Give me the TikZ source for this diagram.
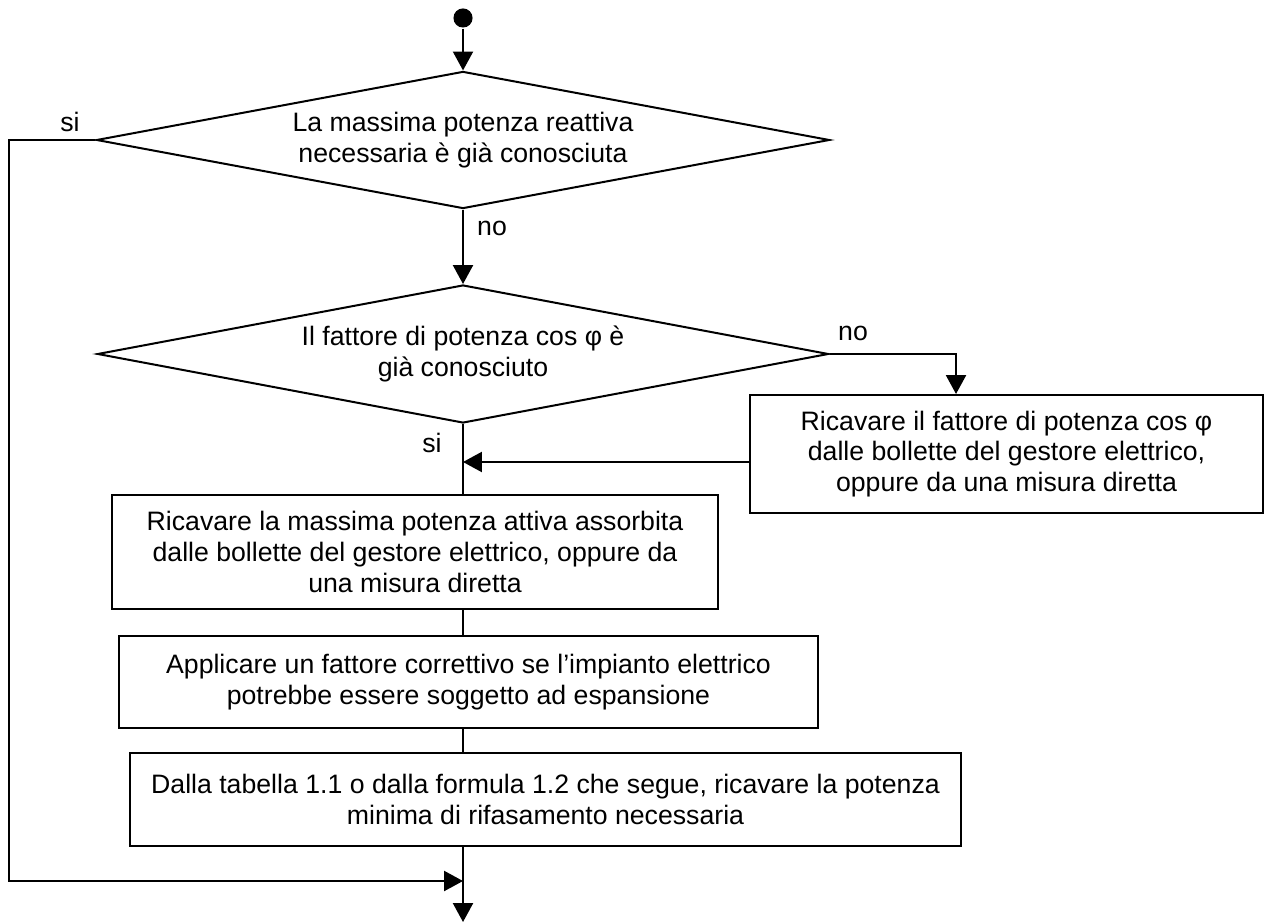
\documentclass[tikz,border=0pt]{standalone}
\usepackage{fontspec}
\setmainfont{Liberation Sans}
\usetikzlibrary{arrows.meta,shapes.geometric}

\begin{document}
\begin{tikzpicture}[x=0.45pt,y=-0.45pt,>={Triangle[length=8.5pt,width=9pt]},line width=0.9pt,
  box node/.style={draw,rectangle,align=center,inner sep=0pt,font=\fontsize{12}{13.9}\selectfont},
  decision node/.style={draw,diamond,aspect=5.3,align=center,inner sep=0pt,font=\fontsize{12}{13.9}\selectfont},
  start node/.style={circle,fill=black,inner sep=0pt,minimum size=8.6pt},
  label node/.style={inner sep=0pt,font=\fontsize{12}{13.9}\selectfont}]
  \useasboundingbox (0,0) rectangle (1268,924);

  \node[start node] (start) at (463,18) {};
  \node[decision node,minimum width=329.9pt,minimum height=61.7pt] (d1) at (463,140) {La massima potenza reattiva\\necessaria è già conosciuta};
  \node[decision node,minimum width=329pt,minimum height=62.1pt] (d2) at (463,354) {Il fattore di potenza cos φ è\\già conosciuto};
  \node[box node,minimum width=230.9pt,minimum height=53.1pt] (rbox) at (1006.5,454) {Ricavare il fattore di potenza cos φ\\dalle bollette del gestore elettrico,\\oppure da una misura diretta};
  \node[box node,minimum width=272.7pt,minimum height=51.3pt] (b1) at (415,552) {Ricavare la massima potenza attiva assorbita\\dalle bollette del gestore elettrico, oppure da\\una misura diretta};
  \node[box node,minimum width=314.6pt,minimum height=41.4pt] (b2) at (468.5,682) {Applicare un fattore correttivo se l’impianto elettrico\\potrebbe essere soggetto ad espansione};
  \node[box node,minimum width=374pt,minimum height=41.9pt] (b3) at (545.5,799.5) {Dalla tabella 1.1 o dalla formula 1.2 che segue, ricavare la potenza\\minima di rifasamento necessaria};

  \node[label node] (si1) at (70,122) {si};
  \node[label node] (no1) at (492,228) {no};
  \node[label node] (no2) at (853,333) {no};
  \node[label node] (si2) at (432,443) {si};

  \coordinate (loop) at (9,140);
  \coordinate (merge) at (463,881);
  \coordinate (nojoin) at (956,354);
  \coordinate (join) at (463,462);
  \coordinate (stop) at (463,922);

  \draw[->] (start) -- (d1);
  \draw[->] (d1) -- (d2);
  \draw[->] (d1.west) -- (loop) |- (merge);
  \draw[->] (d2.east) -- (nojoin) -- (nojoin |- rbox.north);
  \draw[->] (rbox.west |- join) -- (join);
  \draw (d2.south) -- (d2.south |- b1.north);
  \draw (b1.south -| d2.south) -- (b2.north -| d2.south);
  \draw (b2.south -| d2.south) -- (b3.north -| d2.south);
  \draw[->] (b3.south -| d2.south) -- (stop);
\end{tikzpicture}
\end{document}
